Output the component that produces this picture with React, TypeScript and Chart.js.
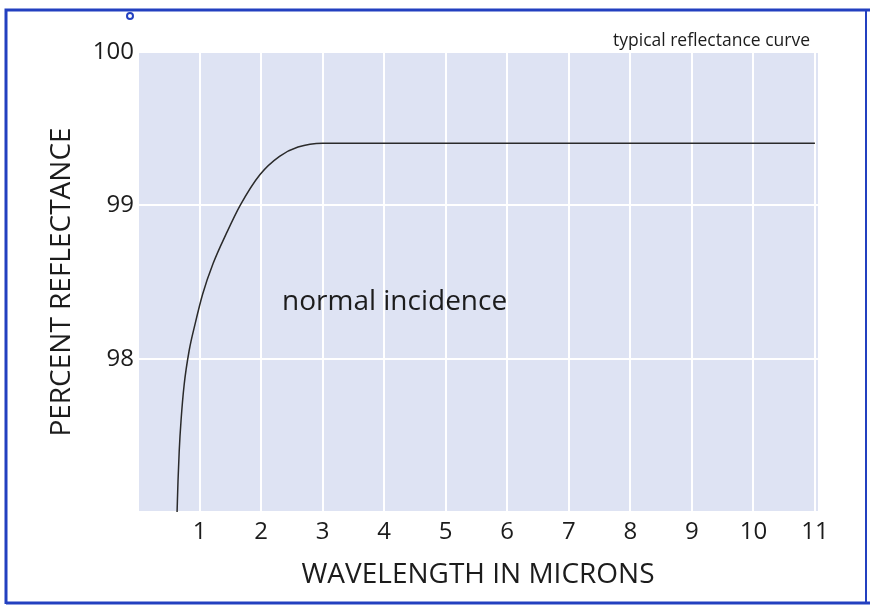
import React, { useEffect, useRef } from "react";
import { Chart, registerables } from "chart.js";

Chart.register(...registerables);

// Wavelength (microns) and percent reflectance
const wavelength = [0.635, 0.65, 0.67, 0.7, 0.75, 0.83, 0.93, 1.05, 1.22, 1.44, 1.66, 1.98, 2.3, 2.6, 3.0, 11.0];
const reflectance = [97.0, 97.2, 97.4, 97.6, 97.83, 98.05, 98.23, 98.42, 98.62, 98.82, 99.0, 99.2, 99.32, 99.38, 99.405, 99.405];

const yTickLabels = [98, 99, 100];
const xTickLabels = [1, 2, 3, 4, 5, 6, 7, 8, 9, 10, 11];

const xTitle = "WAVELENGTH IN MICRONS";
const yTitle = "PERCENT REFLECTANCE";
const curveLabel = "normal incidence";
const cornerLabel = "typical reflectance curve";

const FONT = "'Open Sans', 'Noto Sans', sans-serif";
const INK = "#1c1c1c";

const decorPlugin = {
  id: "decor",
  beforeDraw(chart: any) {
    const { ctx, chartArea } = chart;
    ctx.save();
    ctx.fillStyle = "#ffffff";
    ctx.fillRect(0, 0, chart.width, chart.height);
    ctx.fillStyle = "#dee3f3";
    ctx.fillRect(chartArea.left, chartArea.top, chartArea.right - chartArea.left, chartArea.bottom - chartArea.top);
    ctx.restore();
  },
  afterDraw(chart: any) {
    const { ctx, scales } = chart;
    ctx.save();
    // annotation texts
    ctx.fillStyle = INK;
    ctx.font = `28px ${FONT}`;
    ctx.textBaseline = "middle";
    ctx.textAlign = "left";
    ctx.fillText(curveLabel, scales.x.getPixelForValue(2.34), scales.y.getPixelForValue(98.37));
    ctx.font = `17.5px ${FONT}`;
    ctx.textAlign = "right";
    ctx.fillText(cornerLabel, 810, 41);
    // scan border
    ctx.strokeStyle = "#2340c0";
    ctx.lineWidth = 3;
    ctx.beginPath();
    ctx.moveTo(6, 604);
    ctx.lineTo(6, 10);
    ctx.lineTo(870, 10);
    ctx.moveTo(6, 603);
    ctx.lineTo(870, 603);
    ctx.stroke();
    ctx.lineWidth = 2;
    ctx.beginPath();
    ctx.moveTo(866, 10);
    ctx.lineTo(866, 603);
    ctx.stroke();
    ctx.lineWidth = 2;
    ctx.beginPath();
    ctx.arc(130, 16, 3, 0, Math.PI * 2);
    ctx.stroke();
    ctx.restore();
  },
};

export default function App() {
  const ref = useRef<HTMLCanvasElement>(null);

  useEffect(() => {
    if (!ref.current) return;
    const chart = new Chart(ref.current, {
      type: "line",
      data: {
        datasets: [
          {
            data: wavelength.map((x, i) => ({ x, y: reflectance[i] })),
            borderColor: "#2a2a2a",
            borderWidth: 1.5,
            pointRadius: 0,
            cubicInterpolationMode: "monotone",
            fill: false,
          },
        ],
      },
      options: {
        animation: false,
        responsive: false,
        events: [],
        layout: { padding: { left: 0, top: 52, right: 52, bottom: 0 } },
        plugins: { legend: { display: false }, tooltip: { enabled: false } },
        scales: {
          x: {
            type: "linear",
            min: 0,
            max: 11.05,
            afterFit: (s: any) => {
              s.height = 97;
            },
            grid: { color: "#ffffff", lineWidth: 2, drawTicks: false },
            border: { display: false },
            ticks: {
              stepSize: 1,
              includeBounds: false,
              padding: 6,
              color: INK,
              font: { family: FONT, size: 24 },
              maxRotation: 0,
              callback: (v: any) => (xTickLabels.includes(Number(v)) ? String(v) : ""),
            },
            title: {
              display: true,
              text: xTitle,
              color: INK,
              font: { family: FONT, size: 28 },
              padding: { top: 0, bottom: 17 },
            },
          },
          y: {
            type: "linear",
            min: 97,
            max: 100,
            afterFit: (s: any) => {
              s.width = 138;
            },
            grid: { color: "#ffffff", lineWidth: 2, drawTicks: false },
            border: { display: false },
            ticks: {
              stepSize: 1,
              padding: 4,
              color: INK,
              font: { family: FONT, size: 24 },
              callback: (v: any) => (yTickLabels.includes(Number(v)) ? String(v) : ""),
            },
            title: {
              display: true,
              text: yTitle,
              color: INK,
              font: { family: FONT, size: 28 },
              padding: { top: 45, bottom: 0 },
            },
          },
        },
      },
      plugins: [decorPlugin],
    } as any);
    return () => chart.destroy();
  }, []);

  return (
    <div style={{ position: "absolute", left: 0, top: 0, width: 870, height: 609 }}>
      <canvas ref={ref} width={870} height={609} style={{ display: "block" }} />
    </div>
  );
}
